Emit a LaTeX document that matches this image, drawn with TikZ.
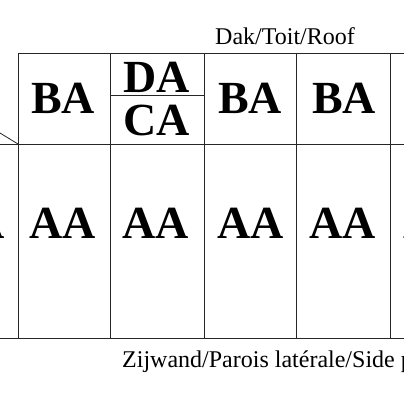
\documentclass[tikz,border=0pt]{standalone}
\usepackage{fontspec}
\setmainfont{Liberation Serif}
\usetikzlibrary{positioning}

\begin{document}
\begin{tikzpicture}[x=1pt,y=-1pt,
    grid/.style={draw=black!85,line width=0.8pt},
    code/.style={inner sep=0pt,font=\fontsize{46}{46}\selectfont\bfseries},
    caption/.style={inner sep=0pt,anchor=base west,font=\fontsize{24}{24}\selectfont}]
  \useasboundingbox (0,0) rectangle (404,404);
  \clip (0,0) rectangle (404,404);
  % panel grid
  \draw[grid] (18,53) -- (404,53);
  \draw[grid] (0,144) -- (404,144);
  \draw[grid] (0,338) -- (404,338);
  \foreach \x in {18,110,204,296,390}
    \draw[grid] (\x,53) -- (\x,338);
  \draw[grid] (110,95) -- (204,95);
  \draw[grid] (0,133) -- (18,144);
  % roof row
  \node[code] (ba1) at (63,98) {BA};
  \node[code] (da) at (157,77) {DA};
  \node[code] (ca) at (157,120) {CA};
  \node[code] (ba3) at (250,98) {BA};
  \node[code] (ba4) at (344,98) {BA};
  \node[code] (ba5) at (437,98) {BA};
  % side row
  \foreach \x [count=\i] in {-28.5,63,156,251,343,437}
    \node[code] (aa\i) at (\x,223) {AA};
  % captions
  \node[caption] (roof) at (215,45) {Dak/Toit/Roof};
  \node[caption] (side) at (122,367) {Zijwand/Parois latérale/Side p};
\end{tikzpicture}
\end{document}
